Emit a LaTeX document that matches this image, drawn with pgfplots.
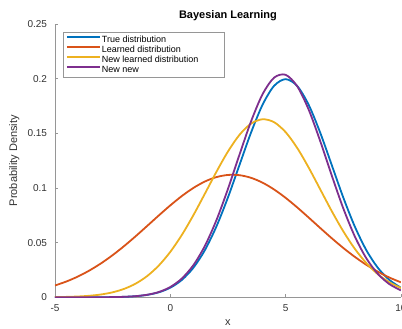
\documentclass[border=0pt]{standalone}
\usepackage{pgfplots}
\pgfplotsset{compat=1.18}
\usepackage{fontspec}
\setmainfont{Liberation Sans}
\definecolor{cA}{RGB}{0,114,189}
\definecolor{cB}{RGB}{217,83,25}
\definecolor{cC}{RGB}{237,177,32}
\definecolor{cD}{RGB}{126,47,142}
\definecolor{axgray}{RGB}{150,150,150}
\definecolor{txtgray}{RGB}{50,50,50}
\begin{document}
\begin{tikzpicture}
\begin{axis}[
  at={(55pt,31.7pt)}, anchor=south west,
  scale only axis, width=345.9pt, height=273.4pt,
  xmin=-5, xmax=10, ymin=0, ymax=0.25,
  axis x line*=bottom, axis y line*=left,
  axis line style={-, draw=axgray, line width=0.6pt},
  xtick={-5,0,5,10}, ytick={0,0.05,0.1,0.15,0.2,0.25},
  tick align=inside, major tick length=3pt,
  tick style={draw=axgray, line width=0.6pt},
  scaled y ticks=false,
  yticklabel style={/pgf/number format/fixed, /pgf/number format/precision=2},
  /pgf/number format/assume math mode=true,
  ticklabel style={font=\fontsize{10}{12}\selectfont, text=txtgray},
  xticklabel shift=4pt, yticklabel shift=4.5pt,
  title={Bayesian Learning},
  title style={font=\bfseries\fontsize{11}{13}\selectfont, at={(axis description cs:0.5,1)}, anchor=base, yshift=-1pt},
  xlabel={x},
  xlabel style={font=\fontsize{11}{13}\selectfont, text=txtgray, at={(axis description cs:0.5,0)}, anchor=base, yshift=-28.5pt},
  ylabel={Probability Density},
  ylabel style={font=\fontsize{11}{13}\selectfont, text=txtgray, at={(axis description cs:-0.118,0.5)}, anchor=center},
  legend cell align=left,
  legend style={at={(0.023,0.971)}, anchor=north west, draw=axgray, fill=white,
    font=\fontsize{9}{11}\selectfont, inner xsep=3pt, inner ysep=3pt,
    nodes={inner xsep=1pt, inner ysep=0.6pt}, row sep=0.9pt},
  legend image code/.code={\draw[#1] (0pt,2.6pt) -- (33pt,2.6pt);},
]
\addlegendimage{draw=cA, line width=1.8pt}
\addlegendentry{\makebox[118pt][l]{True distribution}}
\addlegendimage{draw=cB, line width=1.8pt}
\addlegendentry{Learned distribution}
\addlegendimage{draw=cC, line width=1.8pt}
\addlegendentry{New learned distribution}
\addlegendimage{draw=cD, line width=1.8pt}
\addlegendentry{New new}
\addplot[draw=cA, line width=1.8pt, smooth, forget plot] coordinates {
(-5,0.0000007) (-4.5,0.0000025) (-4,0.000008) (-3.5,0.000024) (-3,0.000067) (-2.5,0.000176) (-2,0.000437) (-1.5,0.001015) (-1,0.002216) (-0.5,0.004547) (0,0.008764) (0.5,0.01587) (1,0.02700) (1.5,0.04314) (2,0.06476) (2.5,0.09132) (3,0.12099) (3.5,0.15057) (4,0.17603) (4.5,0.19333) (5,0.19947) (5.5,0.19333) (6,0.17603) (6.5,0.15057) (7,0.12099) (7.5,0.09132) (8,0.06476) (8.5,0.04314) (9,0.02700) (9.5,0.01587) (10,0.008764)};
\addplot[draw=cB, line width=1.8pt, smooth, forget plot] coordinates {
(-5,0.010807) (-4.5,0.014497) (-4,0.019068) (-3.5,0.024591) (-3,0.031102) (-2.5,0.038561) (-2,0.046876) (-1.5,0.055876) (-1,0.065295) (-0.5,0.074818) (0,0.084055) (0.5,0.092582) (1,0.099985) (1.5,0.10587) (2,0.10991) (2.5,0.11188) (3,0.11166) (3.5,0.10927) (4,0.10483) (4.5,0.09861) (5,0.09095) (5.5,0.08225) (6,0.07292) (6.5,0.06339) (7,0.05403) (7.5,0.04515) (8,0.03700) (8.5,0.02972) (9,0.02341) (9.5,0.01808) (10,0.01369)};
\addplot[draw=cC, line width=1.8pt, smooth, forget plot] coordinates {
(-5,0.000178) (-4.5,0.000369) (-4,0.000737) (-3.5,0.001412) (-3,0.002593) (-2.5,0.004566) (-2,0.007720) (-1.5,0.012518) (-1,0.019461) (-0.5,0.029031) (0,0.041537) (0.5,0.057000) (1,0.075028) (1.5,0.094737) (2,0.11474) (2.5,0.13330) (3,0.14855) (3.5,0.15879) (4,0.16281) (4.5,0.16012) (5,0.15105) (5.5,0.13668) (6,0.11863) (6.5,0.09877) (7,0.07887) (7.5,0.06042) (8,0.04439) (8.5,0.03129) (9,0.02115) (9.5,0.01372) (10,0.00853)};
\addplot[draw=cD, line width=1.8pt, smooth, forget plot] coordinates {
(-5,0.0000006) (-4.5,0.0000022) (-4,0.0000072) (-3.5,0.0000223) (-3,0.000064) (-2.5,0.000174) (-2,0.000440) (-1.5,0.001045) (-1,0.002321) (-0.5,0.004827) (0,0.009404) (0.5,0.017166) (1,0.029346) (1.5,0.047011) (2,0.070519) (2.5,0.099084) (3,0.13041) (3.5,0.16077) (4,0.18566) (4.5,0.20082) (5,0.20346) (5.5,0.19309) (6,0.17164) (6.5,0.14292) (7,0.11146) (7.5,0.08143) (8,0.05572) (8.5,0.03571) (9,0.02144) (9.5,0.01206) (10,0.00635)};
\end{axis}
\pgfresetboundingbox
\useasboundingbox (0pt,0pt) rectangle (402pt,329pt);
\end{tikzpicture}
\end{document}
